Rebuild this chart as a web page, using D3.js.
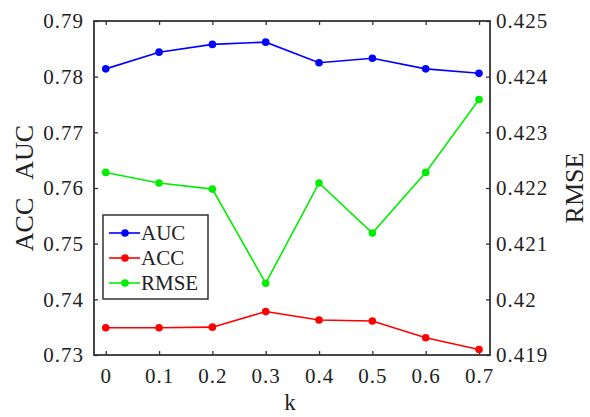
<!DOCTYPE html>
<html lang="en">
  <head>
    <meta charset="UTF-8" />
    <title>AUC / ACC / RMSE vs k</title>
    <script src="https://d3js.org/d3.v7.min.js"></script>
    <style>
      body { margin: 0; background: #fff; }
      text { font-family: "Liberation Serif", "DejaVu Serif", serif; fill: #222; }
    </style>
  </head>
  <body>
    <svg id="chart"></svg>
    <script>
      const WIDTH = 590;
      const HEIGHT = 417;

      // data
      const kValues = [0, 0.1, 0.2, 0.3, 0.4, 0.5, 0.6, 0.7];
      const aucValues = [0.7814, 0.7844, 0.7858, 0.7862, 0.7825, 0.7833, 0.7814, 0.7806];
      const accValues = [0.7349, 0.7349, 0.7350, 0.7378, 0.7363, 0.7361, 0.7331, 0.7310];
      const rmseValues = [0.42228, 0.42209, 0.42198, 0.42029, 0.42209, 0.42119, 0.42228, 0.42359];

      const xTicks = [0, 0.1, 0.2, 0.3, 0.4, 0.5, 0.6, 0.7];
      const leftTicks = [0.73, 0.74, 0.75, 0.76, 0.77, 0.78, 0.79];
      const rightTicks = [0.419, 0.42, 0.421, 0.422, 0.423, 0.424, 0.425];

      const margin = { top: 21, right: 100, bottom: 62, left: 94 };
      const plotW = WIDTH - margin.left - margin.right;
      const plotH = HEIGHT - margin.top - margin.bottom;

      const svg = d3.select("#chart").attr("width", WIDTH).attr("height", HEIGHT);
      const g = svg.append("g").attr("transform", `translate(${margin.left},${margin.top})`);

      const x = d3.scaleLinear().domain([-0.022, 0.7206]).range([0, plotW]);
      const yLeft = d3.scaleLinear().domain([0.73, 0.79]).range([plotH, 0]);
      const yRight = d3.scaleLinear().domain([0.419, 0.425]).range([plotH, 0]);

      const axisColor = "#333";
      const serif = "'Liberation Serif', 'DejaVu Serif', serif";

      // axes: ticks pointing inward, MATLAB style
      const styleAxis = (sel) => {
        sel.attr("font-family", serif).attr("font-size", 21);
        sel.select(".domain").remove();
        sel.selectAll(".tick line").attr("stroke", axisColor).attr("stroke-width", 1.3);
        sel.selectAll(".tick text")
          .attr("fill", "#222")
          .style("letter-spacing", "1px");
      };

      g.append("g")
        .attr("transform", `translate(0,${plotH})`)
        .call(d3.axisBottom(x).tickValues(xTicks).tickSize(-4).tickPadding(13).tickFormat(d3.format("")))
        .call(styleAxis);

      g.append("g")
        .call(d3.axisTop(x).tickValues(xTicks).tickSize(-4).tickFormat(""))
        .call(styleAxis);

      g.append("g")
        .call(d3.axisLeft(yLeft).tickValues(leftTicks).tickSize(-4).tickPadding(10).tickFormat(d3.format("")))
        .call(styleAxis);

      g.append("g")
        .attr("transform", `translate(${plotW},0)`)
        .call(d3.axisRight(yRight).tickValues(rightTicks).tickSize(-4).tickPadding(6).tickFormat(d3.format("")))
        .call(styleAxis);

      // frame
      g.append("rect")
        .attr("width", plotW)
        .attr("height", plotH)
        .attr("fill", "none")
        .attr("stroke", axisColor)
        .attr("stroke-width", 1.8);

      const series = [
        { name: "AUC", values: aucValues, y: yLeft, color: "#0000ff" },
        { name: "ACC", values: accValues, y: yLeft, color: "#ff0000" },
        { name: "RMSE", values: rmseValues, y: yRight, color: "#00ee00" },
      ];

      series.forEach((s) => {
        const line = d3.line()
          .x((d, i) => x(kValues[i]))
          .y((d) => s.y(d));
        g.append("path")
          .datum(s.values)
          .attr("fill", "none")
          .attr("stroke", s.color)
          .attr("stroke-width", 1.6)
          .attr("d", line);
        g.selectAll(null)
          .data(s.values)
          .enter()
          .append("circle")
          .attr("cx", (d, i) => x(kValues[i]))
          .attr("cy", (d) => s.y(d))
          .attr("r", 3.8)
          .attr("fill", s.color);
      });

      // legend
      const legend = g.append("g").attr("transform", "translate(9,194)");
      legend.append("rect")
        .attr("width", 105)
        .attr("height", 84)
        .attr("fill", "#fff")
        .attr("stroke", axisColor)
        .attr("stroke-width", 1.5);
      series.forEach((s, i) => {
        const row = legend.append("g").attr("transform", `translate(0,${18 + i * 25})`);
        row.append("line")
          .attr("x1", 6).attr("x2", 37)
          .attr("stroke", s.color).attr("stroke-width", 1.6);
        row.append("circle").attr("cx", 22).attr("r", 3.8).attr("fill", s.color);
        row.append("text")
          .attr("x", 38)
          .attr("dy", "0.35em")
          .style("font-size", "21px")
          .text(s.name);
      });

      // axis titles
      svg.append("text")
        .attr("transform", `translate(33,${margin.top + plotH / 2}) rotate(-90)`)
        .attr("text-anchor", "middle")
        .style("font-size", "26px")
        .style("white-space", "pre")
        .text("ACC   AUC");

      svg.append("text")
        .attr("transform", `translate(583,${margin.top + plotH / 2}) rotate(-90)`)
        .attr("text-anchor", "middle")
        .style("font-size", "26px")
        .text("RMSE");

      svg.append("text")
        .attr("x", margin.left + plotW / 2 - 2)
        .attr("y", 410)
        .attr("text-anchor", "middle")
        .style("font-size", "23px")
        .text("k");
    </script>
  </body>
</html>
